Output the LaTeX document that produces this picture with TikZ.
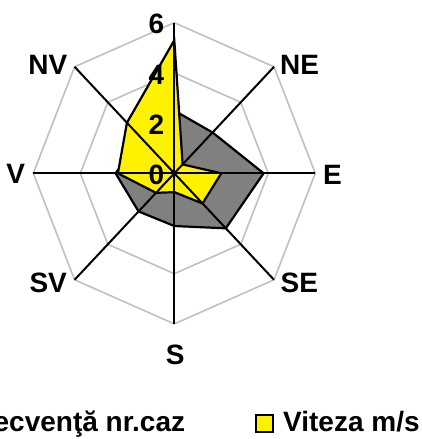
\documentclass[tikz,border=0pt]{standalone}
\usepackage{fontspec}
\setmainfont{Liberation Sans}
\definecolor{ringgray}{HTML}{C0C0C0}
\definecolor{freqgray}{HTML}{808080}
\tikzset{
  ring/.style={draw=ringgray,line width=1.6pt},
  axisline/.style={draw=black,line width=2pt},
  series/.style={draw=black,line width=2.2pt,line join=miter},
  legbox/.style={draw=black,line width=1.8pt,inner sep=0pt,minimum size=17.2pt}
}
\begin{document}
\begin{tikzpicture}[x=1pt,y=1pt,font=\fontsize{28}{30}\selectfont\bfseries]
  \useasboundingbox (-174.3,-265.7) rectangle (247.7,173.3);
  \clip (-174.3,-265.7) rectangle (247.7,173.3);
  \begin{scope}[x=23.5pt,y=25.1pt]
    % grid
    \foreach \r in {2,4,6}
      \draw[ring] (0:\r) \foreach \a in {45,90,...,315} { -- (\a:\r) } -- cycle;
    % Frecventa nr.caz
    \draw[series,fill=freqgray]
      (90:2.5) -- (45:2.3) -- (0:3.8) -- (-45:3.1) -- (-90:2.1)
      -- (-135:2.15) -- (180:2.5) -- (135:2.0) -- cycle;
    % Viteza m/s
    \draw[series,fill=yellow]
      (90:5.3) -- (45:0.5) -- (0:2.0) -- (-45:1.7) -- (-90:0.75)
      -- (-135:1.1) -- (180:2.4) -- (135:2.85) -- cycle;
    \draw
      (0,0) coordinate (O)
      (90:6) coordinate (N)
      (45:6) coordinate (NE)
      (0:6) coordinate (E)
      (-45:6) coordinate (SE)
      (-90:6) coordinate (S)
      (-135:6) coordinate (SV)
      (180:6) coordinate (V)
      (135:6) coordinate (NV);
    \begin{scope}[axisline]
      \foreach \d in {N,NE,E,SE,S,SV,V,NV}
        \draw (O) -- (\d);
    \end{scope}
    % scale
    \foreach \v in {0,2,4,6}
      \node[anchor=east,inner sep=0pt,xshift=-10pt,yshift=-1.5pt] (val\v) at (90:\v) {\v};
  \end{scope}
  % directions
  \node[anchor=west,inner sep=0pt,xshift=6pt,yshift=2pt] (lNE) at (NE) {NE};
  \node[anchor=west,inner sep=0pt,xshift=7.5pt,yshift=-1.7pt] (lE) at (E) {E};
  \node[anchor=west,inner sep=0pt,xshift=6.5pt,yshift=-2.7pt] (lSE) at (SE) {SE};
  \node[anchor=north,inner sep=0pt,xshift=1pt,yshift=-21pt] (lS) at (S) {S};
  \node[anchor=east,inner sep=0pt,xshift=-7.5pt,yshift=-2.7pt] (lSV) at (SV) {SV};
  \node[anchor=east,inner sep=0pt,xshift=-8pt,yshift=-0.7pt] (lV) at (V) {V};
  \node[anchor=east,inner sep=0pt,xshift=-7pt,yshift=2pt] (lNV) at (NV) {NV};
  % legend
  \node[anchor=base east,inner sep=0pt] (tFrec) at (11,-258.2) {Frecvenţă nr.caz};
  \node[legbox,fill=yellow] (kVit) at (90.2,-250.2) {};
  \node[anchor=base west,inner sep=0pt] (tVit) at (108.7,-258.2) {Viteza m/s};
\end{tikzpicture}
\end{document}
